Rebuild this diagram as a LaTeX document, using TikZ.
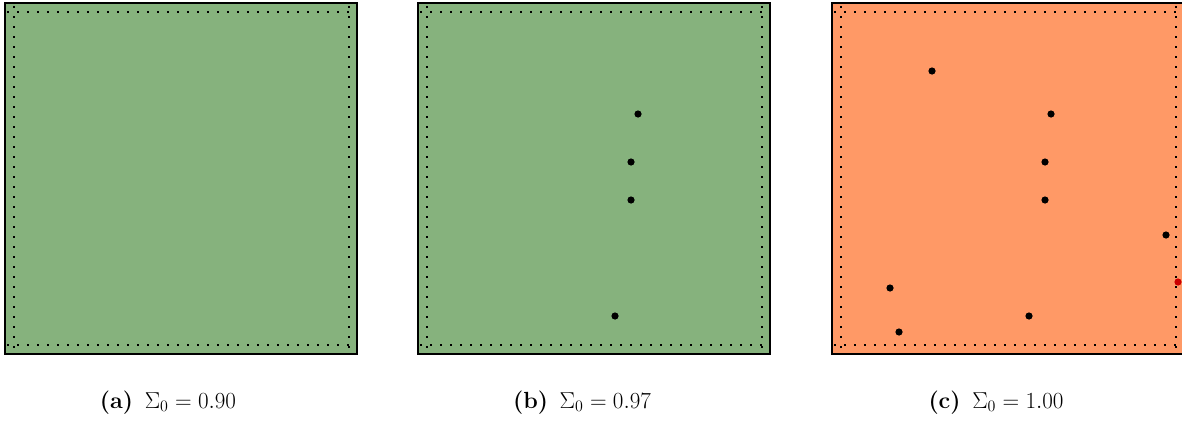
\documentclass[tikz,border=0pt]{standalone}
\usepackage{amsmath}
\definecolor{lowfill}{HTML}{86B27D}
\definecolor{highfill}{HTML}{FF9966}
\definecolor{hit}{HTML}{CC0000}
\tikzset{
  panel/.style={draw=black,line width=1.5pt},
  guide/.style={line width=1.2pt,dash pattern=on 1.2pt off 6.3pt},
  pt/.style={fill=black},
  captext/.style={font=\fontsize{17.5}{21}\selectfont,anchor=base},
}

\begin{document}
\begin{tikzpicture}[x=0.75pt,y=-0.75pt]
\useasboundingbox (0,0) rectangle (1182,421);
\clip (0,0) rectangle (1182,421);
% three panels: left edge, fill
\foreach \x/\c in {5/lowfill,418/lowfill,832/highfill}{
  \fill[\c] (\x,3) rectangle ++(352,351);
  \draw[guide] (\x+2,12) -- ++(350,0);
  \draw[guide] (\x+2,345) -- ++(350,0);
  \draw[guide] (\x+9,6) -- ++(0,348);
  \draw[guide] (\x+344,6) -- ++(0,348);
  \draw[panel] (\x,3) rectangle ++(352,351);
}
% points in (b)
\foreach \px/\py in {638/114,631/162,631/200,615/316}
  \fill[pt] (\px,\py) circle (3.6);
% points in (c)
\foreach \px/\py in {932/71,1051/114,1045/162,1045/200,1166/235,890/288,1029/316,899/332}
  \fill[pt] (\px,\py) circle (3.6);
\fill[hit] (1178,282) circle (3.6);
% captions
\node[captext] (capa) at (168,408) {\textbf{(a)}\enspace$\Sigma_0 = 0.90$};
\node[captext] (capb) at (582,408) {\textbf{(b)}\enspace$\Sigma_0 = 0.97$};
\node[captext] (capc) at (996,408) {\textbf{(c)}\enspace$\Sigma_0 = 1.00$};
\end{tikzpicture}
\end{document}
